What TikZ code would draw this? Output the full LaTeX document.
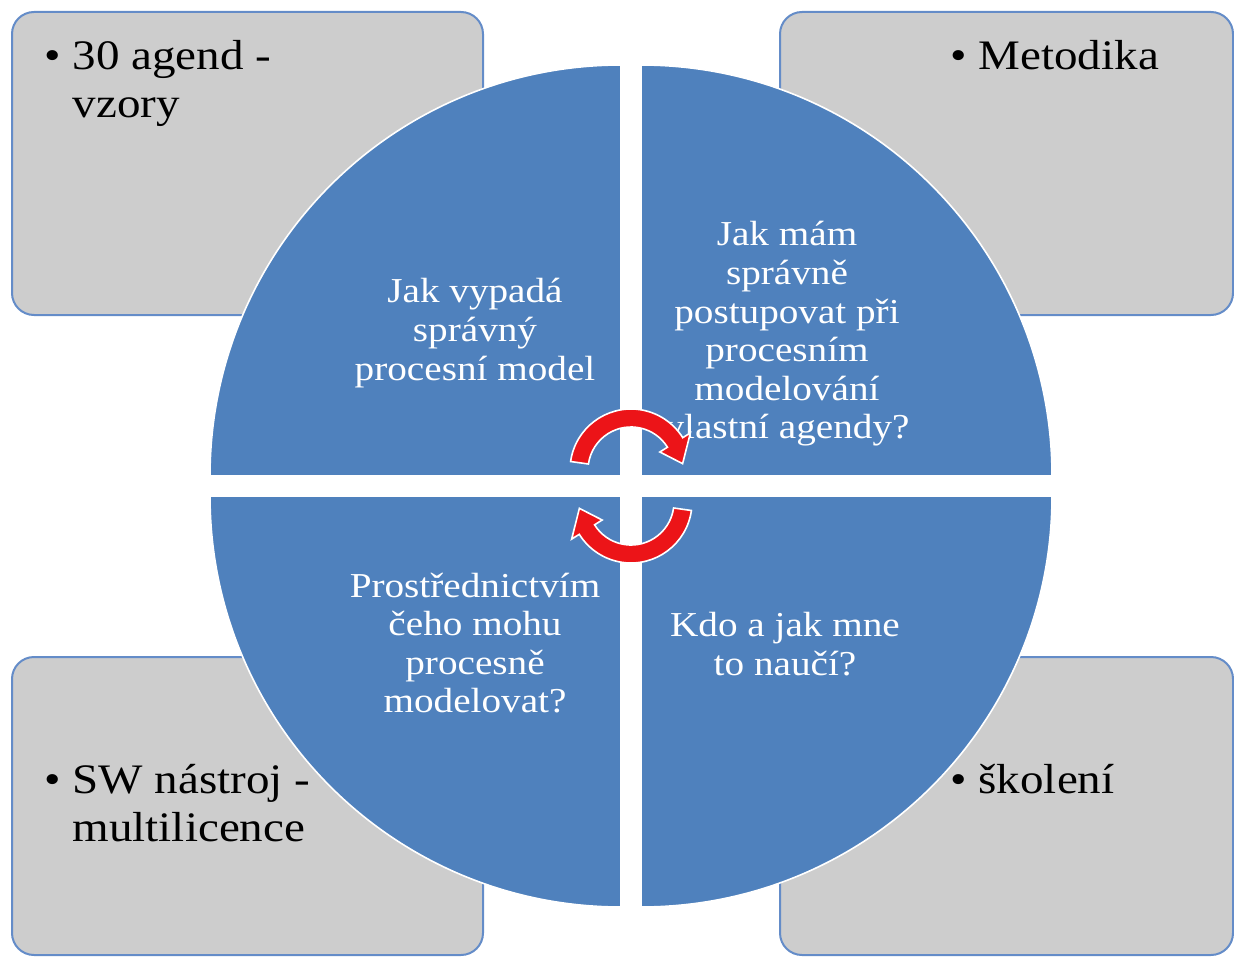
\documentclass[tikz,border=0pt]{standalone}
\usepackage{fontspec}
\setmainfont[FakeStretch = 1.12]{Liberation Serif}
\usetikzlibrary{calc}

\definecolor{quadblue}{RGB}{79,129,189}
\definecolor{boxgrey}{RGB}{205,205,205}
\definecolor{boxline}{RGB}{100,140,200}
\definecolor{turnred}{RGB}{236,20,24}

\begin{document}
\begin{tikzpicture}
      [x = 0.5pt, y = 0.5pt,
      box/.style = {
         draw = boxline,
         fill = boxgrey,
         line width = 1pt,
         rounded corners = 11pt
      },
      quad/.style = {
         fill = quadblue,
         draw = white,
         line width = 0.8pt
      },
      question/.style = {
         text = white,
         align = center,
         inner sep = 0pt,
         font = \fontsize{17.5}{19.3}\selectfont
      },
      item/.style = {
         anchor = base west,
         inner sep = 0pt,
         font = \fontsize{21}{24}\selectfont
      },
      turn/.style = {
         fill = turnred,
         draw = white,
         line width = 0.8pt
      }]

      \useasboundingbox (0, 0) rectangle (1234, 960);

      % grey boxes
      \draw[box] (12, 645) rectangle (483, 948);
      \draw[box] (780, 645) rectangle (1233, 948);
      \draw[box] (12, 5) rectangle (483, 303);
      \draw[box] (780, 5) rectangle (1233, 303);

      % circle of four quadrants
      \coordinate (ctl) at (621, 484);
      \coordinate (ctr) at (641, 484);
      \coordinate (cbl) at (621, 464);
      \coordinate (cbr) at (641, 464);
      \filldraw[quad] (ctl) -- ++(-411, 0) arc[start angle = 180, end angle = 90, radius = 205.5pt] -- cycle;
      \filldraw[quad] (ctr) -- ++(411, 0) arc[start angle = 0, end angle = 90, radius = 205.5pt] -- cycle;
      \filldraw[quad] (cbl) -- ++(-411, 0) arc[start angle = 180, end angle = 270, radius = 205.5pt] -- cycle;
      \filldraw[quad] (cbr) -- ++(411, 0) arc[start angle = 0, end angle = -90, radius = 205.5pt] -- cycle;

      \node[question] (qmodel) at (475, 627) {Jak vypadá\\správný\\procesní model};
      \node[question] (qpostup) at (787, 626) {Jak mám\\správně\\postupovat při\\procesním\\modelování\\vlastní agendy?};
      \node[question] (qnastroj) at (475, 317) {Prostřednictvím\\čeho mohu\\procesně\\modelovat?};
      \node[question] (qskoleni) at (785, 316) {Kdo a jak mne\\to naučí?};

      % red turning arrows
      \coordinate (turna) at (631, 490);
      \coordinate (turnb) at (631, 458);
      \filldraw[turn] ($(turna)+(172:61)$) arc[start angle = 172, end angle = 32, radius = 30.5pt]
         -- ($(turna)+(32:70)$) -- ($(turna)+(7:52)$) -- ($(turna)+(32:34)$)
         -- ($(turna)+(32:43)$) arc[start angle = 32, end angle = 172, radius = 21.5pt] -- cycle;
      \filldraw[turn] ($(turnb)+(352:61)$) arc[start angle = 352, end angle = 212, radius = 30.5pt]
         -- ($(turnb)+(212:70)$) -- ($(turnb)+(187:52)$) -- ($(turnb)+(212:34)$)
         -- ($(turnb)+(212:43)$) arc[start angle = 212, end angle = 352, radius = 21.5pt] -- cycle;

      \node[item] (agend) at (44, 890)
         {\begin{tabular}[t]{@{}l@{\ }l@{}}\textbullet & 30 agend -\\ & vzory\end{tabular}};
      \node[item] (metodika) at (950, 890) {\textbullet\ Metodika};
      \node[item] (nastroj) at (44, 167)
         {\begin{tabular}[t]{@{}l@{\ }l@{}}\textbullet & SW nástroj -\\ & multilicence\end{tabular}};
      \node[item] (skoleni) at (950, 167) {\textbullet\ školení};

   \end{tikzpicture}
\end{document}
